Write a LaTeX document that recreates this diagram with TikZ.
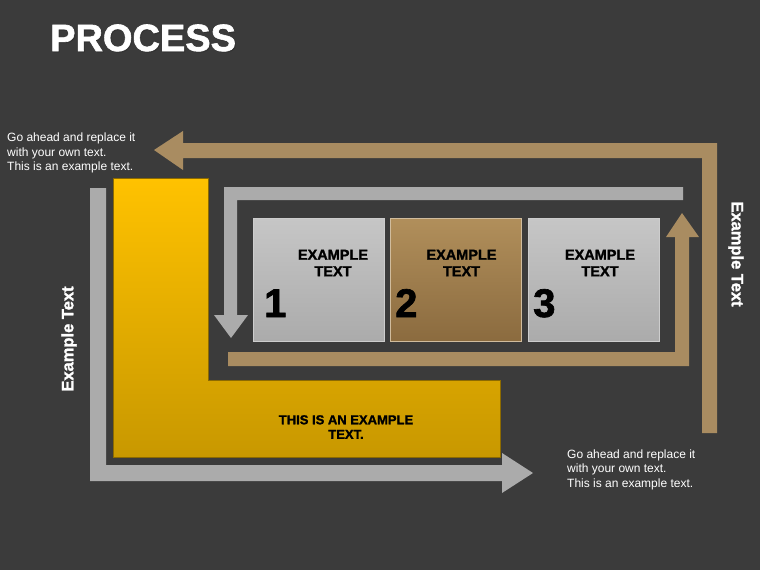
\documentclass[tikz,border=0pt]{standalone}
\usepackage{fontspec}
\setmainfont{Liberation Sans}
\newfontfamily\heavyfont[FakeBold=1.6]{Liberation Sans Bold}
\definecolor{bgc}{HTML}{3B3B3B}
\definecolor{tan}{HTML}{A98C61}
\definecolor{greyarrow}{HTML}{ABABAB}
\definecolor{boxtop}{HTML}{C6C6C6}
\definecolor{boxbot}{HTML}{ABABAB}
\definecolor{browntop}{HTML}{B18F5B}
\definecolor{brownbot}{HTML}{8B6B3F}
\definecolor{yeltop}{HTML}{FFC200}
\definecolor{yelbot}{HTML}{C89800}
\definecolor{yeledge}{HTML}{8C6A00}
\begin{document}
\begin{tikzpicture}[x=1pt,y=-1pt,
  tanarrow/.style={fill=tan},
  greyarr/.style={fill=greyarrow},
  panel/.style={draw=#1!60!white, line width=0.6pt, minimum width=131pt, minimum height=123pt, inner sep=0pt},
  greypanel/.style={panel=boxbot, top color=boxtop, bottom color=boxbot},
  brownpanel/.style={panel=browntop, top color=browntop, bottom color=brownbot},
  paneltext/.style={font=\fontsize{14.5}{16.5}\selectfont\heavyfont, align=center, text=black, inner sep=0pt},
  bignum/.style={font=\fontsize{40}{40}\selectfont\heavyfont, text=black, anchor=base west, inner sep=0pt},
  note/.style={font=\fontsize{12}{14.5}\selectfont, text=white, align=left, anchor=north west, inner sep=0pt},
  sidetext/.style={font=\fontsize{16.5}{18}\selectfont\heavyfont, text=white, inner sep=0pt}
]
\fill[bgc] (0,0) rectangle (760,570);
\useasboundingbox (0,0) rectangle (760,570);

% title
\node[font=\fontsize{38}{38}\selectfont\heavyfont, text=black!80, anchor=base west, inner sep=0pt] (titleshadow) at (51,52) {PROCESS};
\node[font=\fontsize{38}{38}\selectfont\heavyfont, text=white, anchor=base west, inner sep=0pt] (title) at (50,51) {PROCESS};

% outer tan arrow (pointing left)
\fill[tanarrow] (154,150) -- (183,131) -- (183,143) -- (717,143) -- (717,433) -- (702,433)
  -- (702,158) -- (183,158) -- (183,170) -- cycle;

% inner grey arrow (pointing down)
\fill[greyarr] (683,187) -- (224,187) -- (224,315) -- (214,315) -- (231,338) -- (248,315)
  -- (237,315) -- (237,200) -- (683,200) -- cycle;

% inner tan arrow (pointing up)
\fill[tanarrow] (228,352) -- (675,352) -- (675,237) -- (666,237) -- (682,213) -- (699,237)
  -- (689,237) -- (689,366) -- (228,366) -- cycle;

% outer grey arrow (pointing right)
\fill[greyarr] (90,188) -- (106,188) -- (106,465) -- (502,465) -- (502,453) -- (533,473)
  -- (502,493) -- (502,481) -- (90,481) -- cycle;

% yellow L shape
\path[draw=yeledge, line width=0.6pt, top color=yeltop, bottom color=yelbot]
  (113,178) -- (208,178) -- (208,380) -- (500,380) -- (500,457) -- (113,457) -- cycle;
\node[font=\fontsize{13}{14.5}\selectfont\heavyfont, align=center, text=black, inner sep=0pt] (ltext) at (346,427) {THIS IS AN EXAMPLE\\TEXT.};

% panels
\node[greypanel] (p1) at (318.5,279.5) {};
\node[brownpanel] (p2) at (456,279.5) {};
\node[greypanel] (p3) at (594,279.5) {};
\node[paneltext] (t1) at (333,263) {EXAMPLE\\TEXT};
\node[paneltext] (t2) at (461.5,263) {EXAMPLE\\TEXT};
\node[paneltext] (t3) at (600,263) {EXAMPLE\\TEXT};
\node[bignum] (n1) at (264,317) {1};
\node[bignum] (n2) at (395,317) {2};
\node[bignum] (n3) at (533,317) {3};

% notes
\node[note] (note1) at (7,133) {Go ahead and replace it\\with your own text.\\This is an example text.};
\node[note] (note2) at (567,449.5) {Go ahead and replace it\\with your own text.\\This is an example text.};

% side texts
\node[sidetext, rotate=-90] (side1) at (736,254) {Example Text};
\node[sidetext, rotate=90] (side2) at (69,339) {Example Text};
\end{tikzpicture}
\end{document}
